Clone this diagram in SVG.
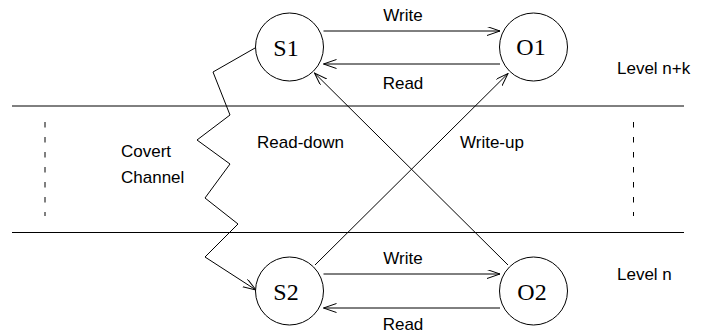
<svg xmlns="http://www.w3.org/2000/svg" width="704" height="333" viewBox="0 0 704 333">
<style>
.ln{stroke:#000;stroke-width:1;fill:none}
.dash{stroke:#000;stroke-width:1;fill:none;stroke-dasharray:5.5 9.5}
.node{stroke:#000;stroke-width:1;fill:#fff}
.nl{font-family:"Liberation Serif","Times New Roman",serif;font-size:24px;fill:#000;text-anchor:middle}
.lb{font-family:"Liberation Sans",Arial,sans-serif;font-size:17px;fill:#000}
</style>
<defs>
<marker id="arr" markerUnits="userSpaceOnUse" markerWidth="14" markerHeight="10" refX="13" refY="4.5" orient="auto">
<path d="M0,0 L13,4.5 L0,9" fill="none" stroke="#000" stroke-width="1"/>
</marker>
</defs>
<g id="levels">
<line class="ln" x1="12" y1="106" x2="684" y2="106"/>
<line class="ln" x1="12" y1="232.5" x2="684" y2="232.5"/>
<line class="dash" x1="45" y1="122" x2="45" y2="216"/>
<line class="dash" x1="633.5" y1="122" x2="633.5" y2="216"/>
<text class="lb" x="617" y="74">Level n+k</text>
<text class="lb" x="617" y="280">Level n</text>
</g>
<g id="connectors">
<line class="ln" x1="323.5" y1="31" x2="500" y2="31" marker-end="url(#arr)"/>
<line class="ln" x1="500" y1="64" x2="323.5" y2="64" marker-end="url(#arr)"/>
<line class="ln" x1="323.5" y1="274" x2="500" y2="274" marker-end="url(#arr)"/>
<line class="ln" x1="500" y1="308" x2="323.5" y2="308" marker-end="url(#arr)"/>
<line class="ln" x1="508" y1="265" x2="314.5" y2="73" marker-end="url(#arr)"/>
<line class="ln" x1="315" y1="265" x2="508" y2="73.5" marker-end="url(#arr)"/>
<polyline class="ln" points="255,48 213,72 230,115 197,140 230,164 205,198 238,224 205,257 256,290" marker-end="url(#arr)"/>
<text class="lb" x="403" y="21" text-anchor="middle">Write</text>
<text class="lb" x="403" y="89" text-anchor="middle">Read</text>
<text class="lb" x="403" y="264" text-anchor="middle">Write</text>
<text class="lb" x="403" y="329.5" text-anchor="middle">Read</text>
<text class="lb" x="257" y="148">Read-down</text>
<text class="lb" x="460" y="148">Write-up</text>
<text class="lb" x="121" y="157">Covert</text>
<text class="lb" x="121" y="183">Channel</text>
</g>
<g id="S1">
<circle class="node" cx="289.5" cy="47" r="34"/>
<text class="nl" x="286" y="56">S1</text>
</g>
<g id="O1">
<circle class="node" cx="533.5" cy="47" r="34"/>
<text class="nl" x="531" y="55">O1</text>
</g>
<g id="S2">
<circle class="node" cx="289.5" cy="291" r="34"/>
<text class="nl" x="286" y="300">S2</text>
</g>
<g id="O2">
<circle class="node" cx="533.5" cy="291" r="34"/>
<text class="nl" x="532" y="300">O2</text>
</g>
</svg>
